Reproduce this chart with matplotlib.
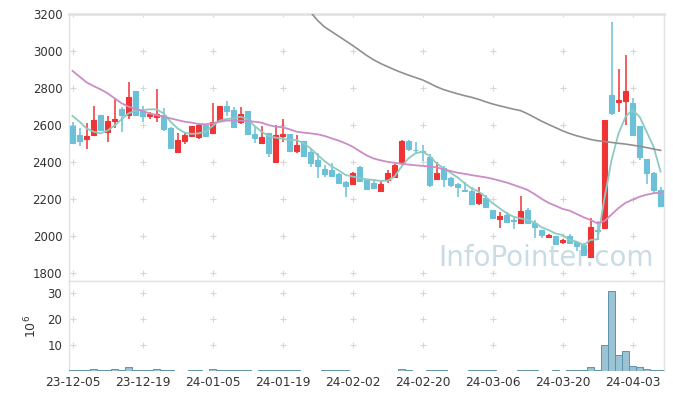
import numpy as np
import matplotlib
matplotlib.use('Agg')
import matplotlib.pyplot as plt

# daily candles, index 0 = 23-12-05
opens = [2594, 2545, 2525, 2547, 2653, 2563, 2623, 2686, 2653, 2783,
         2675, 2650, 2641, 2653, 2585, 2455, 2515, 2542, 2533, 2599,
         2554, 2623, 2702, 2680, 2617, 2675, 2551, 2504, 2554, 2401,
         2540, 2551, 2461, 2513, 2455, 2410, 2361, 2356, 2334, 2293,
         2280, 2374, 2307, 2287, 2242, 2302, 2320, 2401, 2513, 2466,
         2460, 2428, 2307, 2368, 2311, 2280, 2248, 2242, 2176, 2203,
         2139, 2093, 2112, 2084, 2071, 2139, 2071, 2031, 1992, 1997,
         1968, 1999, 1965, 1950, 1883, 2033, 2040, 2762, 2726, 2731,
         2717, 2594, 2415, 2341, 2248]
highs = [2617, 2585, 2608, 2702, 2655, 2648, 2744, 2695, 2834, 2785,
         2702, 2672, 2792, 2690, 2587, 2554, 2558, 2596, 2605, 2601,
         2717, 2704, 2729, 2695, 2699, 2677, 2590, 2594, 2556, 2599,
         2632, 2553, 2545, 2515, 2467, 2450, 2383, 2392, 2338, 2295,
         2343, 2376, 2309, 2305, 2300, 2356, 2387, 2518, 2518, 2509,
         2490, 2440, 2401, 2376, 2320, 2285, 2293, 2263, 2263, 2221,
         2141, 2127, 2130, 2103, 2215, 2148, 2085, 2033, 2010, 1999,
         1985, 2008, 1967, 1960, 2095, 2082, 2628, 3155, 2901, 2978,
         2744, 2596, 2417, 2343, 2265]
lows = [2497, 2488, 2468, 2545, 2570, 2509, 2585, 2560, 2630, 2650,
        2617, 2630, 2617, 2569, 2475, 2453, 2497, 2536, 2522, 2540,
        2551, 2621, 2650, 2588, 2605, 2549, 2500, 2502, 2428, 2399,
        2509, 2455, 2450, 2428, 2374, 2311, 2316, 2316, 2280, 2211,
        2275, 2290, 2245, 2255, 2240, 2285, 2318, 2385, 2460, 2440,
        2405, 2265, 2300, 2266, 2262, 2211, 2235, 2168, 2168, 2150,
        2096, 2040, 2074, 2035, 2069, 2064, 1986, 1990, 1990, 1955,
        1955, 1955, 1919, 1890, 1881, 1977, 2038, 2653, 2671, 2599,
        2540, 2412, 2280, 2230, 2161]
closes = [2504, 2515, 2540, 2626, 2572, 2621, 2632, 2653, 2749, 2653,
          2648, 2659, 2659, 2578, 2477, 2518, 2545, 2594, 2599, 2542,
          2616, 2702, 2677, 2590, 2659, 2551, 2531, 2536, 2450, 2545,
          2551, 2461, 2491, 2433, 2396, 2379, 2332, 2325, 2284, 2271,
          2341, 2298, 2253, 2260, 2280, 2341, 2385, 2513, 2470, 2462,
          2455, 2275, 2341, 2309, 2275, 2262, 2242, 2172, 2233, 2157,
          2098, 2107, 2076, 2080, 2134, 2067, 2046, 2004, 2004, 1957,
          1975, 1963, 1946, 1896, 2046, 2028, 2626, 2666, 2735, 2783,
          2545, 2428, 2338, 2248, 2161]

ma5 = [2648, 2617, 2581, 2563, 2554, 2569, 2596, 2630, 2662, 2677,
       2680, 2684, 2684, 2662, 2617, 2581, 2558, 2551, 2554, 2563,
       2594, 2623, 2632, 2635, 2644, 2630, 2594, 2563, 2540, 2531,
       2525, 2518, 2518, 2500, 2473, 2437, 2404, 2376, 2354, 2329,
       2320, 2314, 2305, 2302, 2296, 2298, 2320, 2374, 2419, 2446,
       2455, 2432, 2392, 2365, 2341, 2316, 2284, 2257, 2239, 2211,
       2176, 2149, 2122, 2103, 2094, 2085, 2071, 2046, 2031, 2012,
       2004, 1977, 1968, 1950, 1977, 1981, 2205, 2410, 2554, 2644,
       2681, 2644, 2563, 2482, 2347]
ma20 = [2892, 2861, 2830, 2810, 2792, 2771, 2744, 2717, 2699, 2686,
        2675, 2662, 2653, 2644, 2635, 2626, 2617, 2612, 2605, 2603,
        2608, 2617, 2623, 2623, 2623, 2621, 2617, 2612, 2599, 2590,
        2587, 2576, 2563, 2558, 2554, 2549, 2540, 2527, 2515, 2500,
        2482, 2458, 2435, 2418, 2408, 2400, 2394, 2390, 2385, 2381,
        2378, 2375, 2370, 2360, 2350, 2341, 2335, 2328, 2322, 2316,
        2308, 2298, 2288, 2275, 2262, 2248, 2225, 2200, 2178, 2162,
        2145, 2136, 2118, 2100, 2085, 2067, 2080, 2115, 2150, 2178,
        2195, 2211, 2222, 2230, 2233]
ma120 = [None] * 34 + [
        3210, 3165, 3130, 3105, 3080, 3055, 3030, 3003, 2976, 2952,
        2932, 2915, 2898, 2883, 2869, 2856, 2843, 2825, 2806, 2791,
        2779, 2768, 2758, 2749, 2738, 2725, 2713, 2703, 2694, 2685,
        2677, 2660, 2640, 2620, 2602, 2585, 2568, 2553, 2541, 2531,
        2521, 2514, 2510, 2505, 2500, 2496, 2490, 2484, 2477, 2469,
        2462]

# volume in millions
volume = [0.4, 0.4, 0.4, 0.7, 0.4, 0.4, 0.7, 0.4, 1.6, 0.4,
          0.4, 0.4, 0.7, 0.4, 0.4, 0.0, 0.0, 0.4, 0.4, 0.0,
          0.7, 0.4, 0.4, 0.4, 0.4, 0.4, 0.0, 0.4, 0.4, 0.4,
          0.4, 0.4, 0.4, 0.0, 0.0, 0.0, 0.4, 0.4, 0.4, 0.6,
          0.0, 0.0, 0.0, 0.0, 0.0, 0.0, 0.0, 0.8, 0.4, 0.0,
          0.0, 0.4, 0.4, 0.4, 0.0, 0.0, 0.0, 0.4, 0.4, 0.4,
          0.4, 0.0, 0.0, 0.0, 0.4, 0.4, 0.4, 0.0, 0.0, 0.4,
          0.0, 0.4, 0.4, 0.4, 1.6, 0.4, 10.0, 31.0, 6.4, 7.9,
          1.9, 1.5, 1.0, 0.4, 0.4]

tick_pos = [0, 10, 20, 30, 40, 50, 60, 70, 80]
tick_labels = ['23-12-05', '23-12-19', '24-01-05', '24-01-19', '24-02-02',
               '24-02-20', '24-03-06', '24-03-20', '24-04-03']
price_ticks = [1800, 2000, 2200, 2400, 2600, 2800, 3000, 3200]
vol_ticks = [10, 20, 30]

RED = '#ee3434'
BLUE = '#6cc0d8'
GRID = '#d6d6d6'
FRAME = '#e2e2e2'

x = np.arange(len(closes))
o = np.array(opens, float)
c = np.array(closes, float)
up = c >= o

fig = plt.figure(figsize=(6.73, 3.99), dpi=100)
ax = fig.add_axes([0.103, 0.2957, 0.883, 0.6693])
axv = fig.add_axes([0.103, 0.0694, 0.883, 0.2263], sharex=ax)

# gridline crosses
for a, yt in ((ax, price_ticks), (axv, vol_ticks)):
    gx, gy = np.meshgrid(tick_pos, yt)
    a.plot(gx.ravel(), gy.ravel(), '+', color=GRID, ms=5, mew=0.8, zorder=1)

colors = np.where(up, RED, BLUE)
ax.vlines(x, lows, highs, colors=colors, lw=1.1, zorder=3)
ax.bar(x, np.abs(c - o), bottom=np.minimum(o, c), width=0.7, color=colors,
       edgecolor=colors, lw=0.8, zorder=4)

ax.plot(x, ma5, color='#8ccbc2', lw=1.3, zorder=5)
ax.plot(x, ma20, color='#cc8cc6', lw=1.3, zorder=5)
ax.plot(x, np.array(ma120, dtype=float), color='#909090', lw=1.2, zorder=5)

ax.text(0.811, 0.354, 'InfoPointer.com', transform=fig.transFigure,
        fontsize=20, color='#c9dce6', ha='center', va='center', zorder=2)

ax.set_ylim(1755, 3200)
ax.set_xlim(-0.46, 84.43)
ax.set_yticks(price_ticks)
ax.tick_params(axis='y', length=0, labelsize=8.5, labelcolor='#333333', pad=5)
ax.tick_params(axis='x', length=0, labelbottom=False)

vlw = [0.7 if v > 0 else 0 for v in volume]
axv.bar(x, volume, width=1.0, color='#9cc3d3', edgecolor='#5d93ab',
        linewidth=vlw, zorder=3)
axv.set_ylim(0, 34.7)
axv.set_yticks(vol_ticks)
axv.set_xticks(tick_pos)
axv.set_xticklabels(tick_labels)
axv.tick_params(axis='both', length=0, labelsize=8.8, labelcolor='#333333')
axv.tick_params(axis='y', pad=5, labelsize=8.5)
axv.set_ylabel(r'$10^6$', fontsize=9, color='#333333', labelpad=6)

for a in (ax, axv):
    for s in a.spines.values():
        s.set_color(FRAME)
        s.set_linewidth(1.0)
ax.spines['top'].set_linewidth(2.0)
axv.spines['bottom'].set_visible(False)

plt.savefig('out.png', dpi=100)
